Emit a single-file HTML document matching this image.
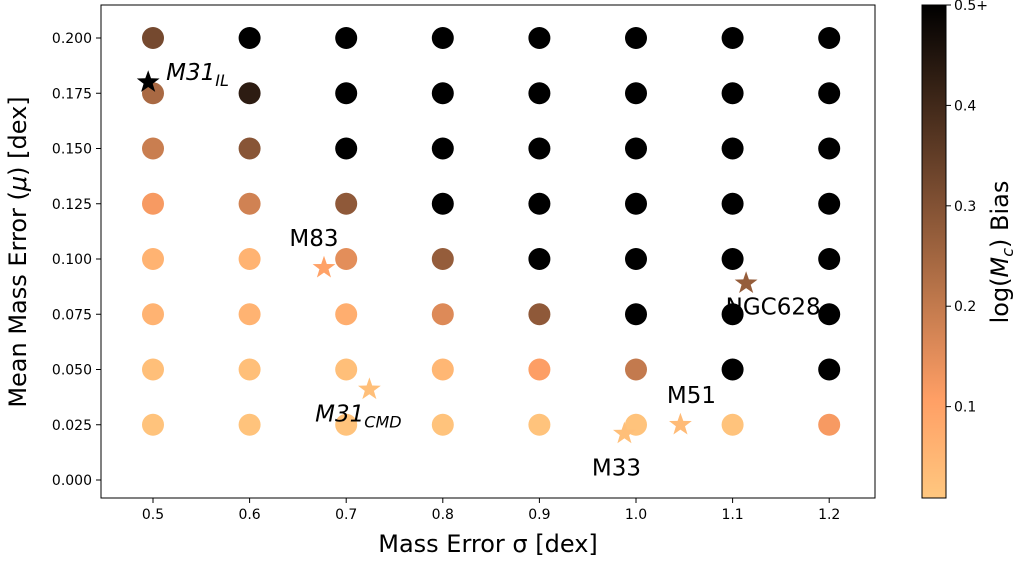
<!DOCTYPE html>
<html><head><meta charset="utf-8"><style>
body{margin:0;background:#fff;}
svg{display:block;font-family:"DejaVu Sans","Liberation Sans",sans-serif;}
</style></head><body>
<svg id="chart" width="1020" height="562"></svg>
<script>
const sigmas=[0.5,0.6,0.7,0.8,0.9,1.0,1.1,1.2];
const mus=[0.2,0.175,0.15,0.125,0.1,0.075,0.05,0.025];
const biasRows=[
[0.32,0.6,0.6,0.6,0.6,0.6,0.6,0.6],
[0.24,0.43,0.6,0.6,0.6,0.6,0.6,0.6],
[0.19,0.29,0.6,0.6,0.6,0.6,0.6,0.6],
[0.12,0.18,0.28,0.6,0.6,0.6,0.6,0.6],
[0.06,0.06,0.15,0.27,0.6,0.6,0.6,0.6],
[0.06,0.06,0.07,0.16,0.28,0.6,0.6,0.6],
[0.03,0.03,0.03,0.05,0.11,0.2,0.6,0.6],
[0.02,0.02,0.02,0.02,0.02,0.02,0.02,0.12]];
const galNames=["M31_IL","M83","M31_CMD","M33","M51","NGC628"];
const galSigma=[0.495,0.677,0.724,0.988,1.046,1.114];
const galMu=[0.180,0.096,0.041,0.021,0.025,0.089];
const galBias=[0.6,0.1,0.03,0.03,0.04,0.27];
const xTicks=[0.5,0.6,0.7,0.8,0.9,1.0,1.1,1.2];
const yTicks=[0,0.025,0.05,0.075,0.1,0.125,0.15,0.175,0.2];
const cbTicks=[0.1,0.2,0.3,0.4,0.5];

const NS="http://www.w3.org/2000/svg";
const svg=document.getElementById('chart');
const L=101,R=875,T=5,B=498;
const X=v=>153+(v-0.5)*966;
const Y=v=>480-v*2210;
const vmin=0.009,vmax=0.5;
function col(v){let t=Math.max(0,Math.min(1,(v-vmin)/(vmax-vmin)));let s=1-t;
return `rgb(${Math.round(255*Math.min(1,1.25*s))},${Math.round(255*0.7812*s)},${Math.round(255*0.4975*s)})`;}
function mk(tag,attrs,parent){const e=document.createElementNS(NS,tag);for(const k in attrs)e.setAttribute(k,attrs[k]);(parent||svg).appendChild(e);return e;}
function txt(s,x,y,size,anchor,parent){const e=mk('text',{x:x,y:y,'font-size':size,'text-anchor':anchor||'middle',fill:'#000'},parent);e.textContent=s;return e;}

const frame=mk('rect',{x:L,y:T,width:R-L,height:B-T,fill:'none',stroke:'#000','stroke-width':1});


xTicks.forEach(v=>{const g=mk('g',{});

mk('line',{x1:X(v),x2:X(v),y1:B,y2:B+5,stroke:'#000'},g);txt(v.toFixed(1),X(v),B+21,14,'middle',g);});
yTicks.forEach(v=>{const g=mk('g',{});

mk('line',{x1:L-5,x2:L,y1:Y(v),y2:Y(v),stroke:'#000'},g);txt(v.toFixed(3),L-9,Y(v)+5,14,'end',g);});

const xl=txt('Mass Error σ [dex]',488,552,24);

const yl=mk('text',{x:0,y:0,'font-size':24,'text-anchor':'middle',transform:'translate(26,252) rotate(-90)'});
yl.innerHTML='Mean Mass Error (<tspan font-style="italic">μ</tspan>) [dex]';


biasRows.forEach((row,i)=>row.forEach((b,j)=>{
const c=mk('circle',{cx:X(sigmas[j]),cy:Y(mus[i]),r:11,fill:col(b)});
}));

function starPath(cx,cy,r){let p='';for(let k=0;k<10;k++){const rr=k%2?r*0.4:r;const a=-Math.PI/2+k*Math.PI/5;p+=(k?'L':'M')+(cx+rr*Math.cos(a)).toFixed(1)+','+(cy+rr*Math.sin(a)).toFixed(1);}return p+'Z';}
const labelOff=[[18,-2,'start'],[-10,-22,'middle'],[-11,32,'middle'],[-8,42,'middle'],[11,-22,'middle'],[27,31,'middle']];
galNames.forEach((n,i)=>{
const s=mk('path',{d:starPath(X(galSigma[i]),Y(galMu[i]),12),fill:col(galBias[i])});

const o=labelOff[i];const parts=n.split('_');
const t=mk('text',{x:X(galSigma[i])+o[0],y:Y(galMu[i])+o[1],'font-size':23,'text-anchor':o[2]});
if(parts.length>1){t.innerHTML='<tspan font-style="italic">'+parts[0]+'</tspan><tspan font-style="italic" font-size="16" dy="6">'+parts[1]+'</tspan>';}
else t.textContent=n;

});

const defs=mk('defs',{});const lg=mk('linearGradient',{id:'cb',x1:0,y1:1,x2:0,y2:0},defs);
for(let k=0;k<=10;k++){mk('stop',{offset:k/10,'stop-color':col(vmin+(vmax-vmin)*k/10)},lg);}
const cb=mk('rect',{x:922,y:T,width:24,height:B-T,fill:'url(#cb)',stroke:'#000','stroke-width':1});

const CY=v=>B-(v-vmin)/(vmax-vmin)*(B-T);
cbTicks.forEach(v=>{const g=mk('g',{});

mk('line',{x1:946,x2:951,y1:CY(v),y2:CY(v),stroke:'#000'},g);txt(v===0.5?'0.5+':v.toFixed(1),954,CY(v)+5,14,'start',g);});
const cl=mk('text',{x:0,y:0,'font-size':24,'text-anchor':'middle',transform:'translate(1008,252) rotate(-90)'});
cl.innerHTML='log(<tspan font-style="italic">M</tspan><tspan font-style="italic" font-size="16" dy="5">c</tspan><tspan dy="-5">) Bias</tspan>';

</script>
</body></html>
